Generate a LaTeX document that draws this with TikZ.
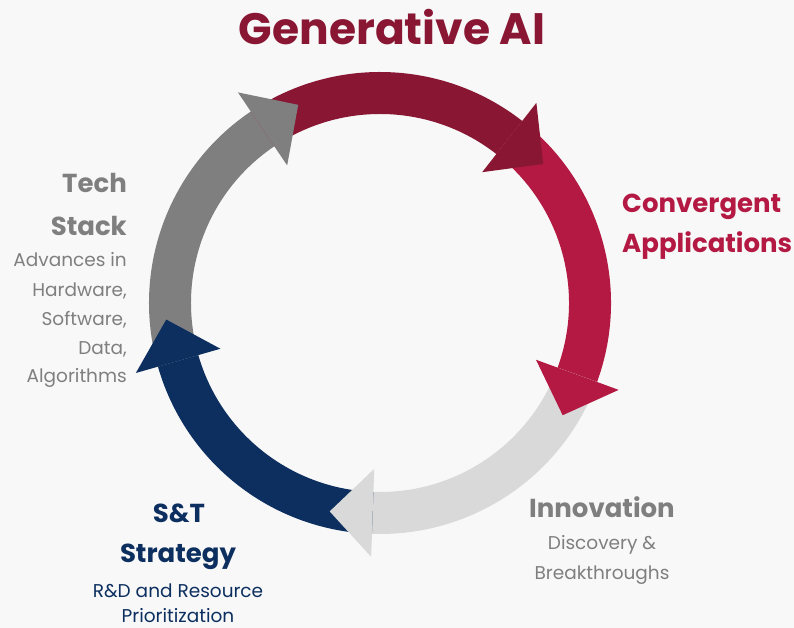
\documentclass[tikz,border=0pt]{standalone}
\usepackage{fontspec}
\setmainfont{Poppins}
\definecolor{bgc}{RGB}{248,248,248}
\definecolor{dred}{RGB}{137,23,52}
\definecolor{crim}{RGB}{179,25,66}
\definecolor{lgray}{RGB}{217,217,217}
\definecolor{navy}{RGB}{12,47,95}
\definecolor{mgray}{RGB}{127,127,127}
\tikzset{
  head/.style={bold title},
  bold title/.style={inner sep=0pt, font=\bfseries\fontsize{26}{26}\selectfont},
  subt/.style={inner sep=0pt, font=\fontsize{18.5}{18.5}\selectfont},
}
\newcommand{\bandarc}[3]{% color, from, to
  \fill[#1] (#2:189) arc[start angle=#2, end angle=#3, radius=189] -- (#3:231) arc[start angle=#3, end angle=#2, radius=231] -- cycle;}
\newcommand{\arrhead}[2]{% color, base angle
  \fill[#1] (#2:166) -- (#2:254) -- ({#2-11.57}:214.4) -- cycle;}
\begin{document}
\begin{tikzpicture}[x=1pt,y=1pt]
\useasboundingbox (0,0) rectangle (794,628);
\fill[bgc] (0,0) rectangle (794,628);
\begin{scope}[shift={(380,325)}]
  \bandarc{mgray}{196}{124}
  \bandarc{dred}{124}{52}
  \bandarc{crim}{52}{-20}
  \bandarc{lgray}{-20}{-92}
  \bandarc{navy}{-92}{-164}
  \arrhead{mgray}{124}
  \arrhead{dred}{52}
  \arrhead{crim}{-20}
  \arrhead{lgray}{-92}
  \arrhead{navy}{196}
\end{scope}
% title
\node[inner sep=0pt, anchor=base, text=dred, font=\bfseries\fontsize{44}{44}\selectfont] (title) at (392,583) {Generative AI};
% Tech stack
\node[head, anchor=base east, text=mgray] (tech1) at (127,435) {Tech};
\node[head, anchor=base east, text=mgray] (tech2) at (127,392) {Stack};
\node[subt, anchor=base east, text=mgray] (ts1) at (127,361) {Advances in};
\node[subt, anchor=base east, text=mgray] (ts2) at (127,331) {Hardware,};
\node[subt, anchor=base east, text=mgray] (ts3) at (127,302) {Software,};
\node[subt, anchor=base east, text=mgray] (ts4) at (127,273) {Data,};
\node[subt, anchor=base east, text=mgray] (ts5) at (127,245) {Algorithms};
% Convergent
\node[head, anchor=base west, text=crim] (ca1) at (622,415) {Convergent};
\node[head, anchor=base west, text=crim] (ca2) at (622,375) {Applications};
% Innovation
\node[head, anchor=base, text=mgray] (in1) at (602,110) {Innovation};
\node[subt, anchor=base, text=mgray] (in2) at (602,78) {Discovery \&};
\node[subt, anchor=base, text=mgray] (in3) at (602,48) {Breakthroughs};
% S&T
\node[head, anchor=base, text=navy] (st1) at (179,105) {S\&T};
\node[head, anchor=base, text=navy] (st2) at (178,65) {Strategy};
\node[subt, anchor=base, text=navy] (st3) at (178,30) {R\&D and Resource};
\node[subt, anchor=base, text=navy] (st4) at (178,5) {Prioritization};
\end{tikzpicture}
\end{document}
